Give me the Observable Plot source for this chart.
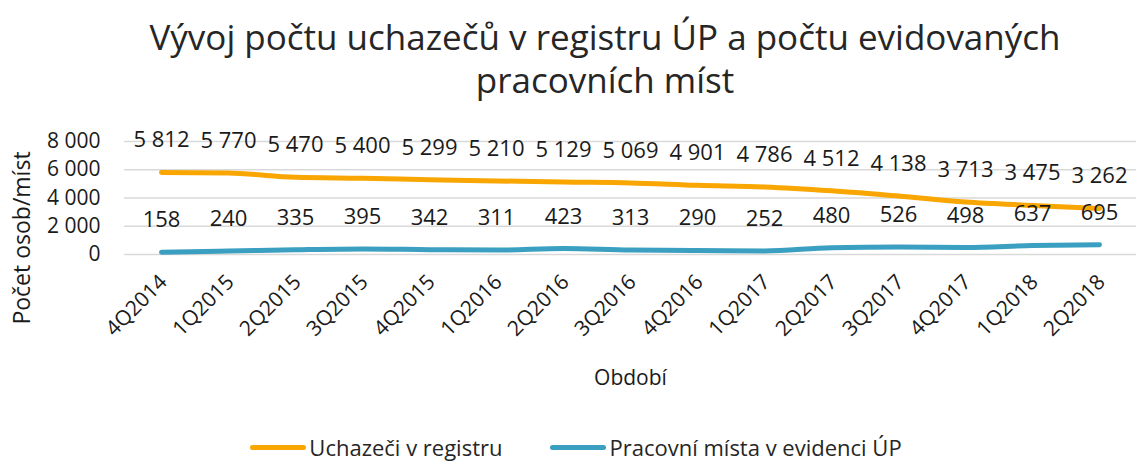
<!DOCTYPE html>
<html>
<head>
<meta charset="utf-8">
<script src="https://cdn.jsdelivr.net/npm/d3@7"></script>
<script src="https://cdn.jsdelivr.net/npm/@observablehq/plot@0.6"></script>
<style>
  html, body { margin: 0; padding: 0; background: #fff; }
  body { width: 1136px; height: 463px; overflow: hidden; font-family: "Open Sans", sans-serif; color: #262626; }
  #title { font-size: 35px; line-height: 43px; text-align: center; padding: 15px 0 0 74px; height: 100px; box-sizing: content-box; white-space: nowrap; }
  #chart { margin-top: 0; height: 285px; }
  #legend { display: flex; justify-content: center; align-items: center; gap: 48px; height: 63px; padding-left: 16px; padding-top: 32px; box-sizing: border-box; font-size: 22px; line-height: 31px; }
  .item { display: flex; align-items: center; }
  .sw { display: inline-block; width: 56px; height: 5px; border-radius: 3px; margin-right: 3px; }
</style>
</head>
<body>
<div id="title">Vývoj počtu uchazečů v registru ÚP a počtu evidovaných<br>pracovních míst</div>
<div id="chart"></div>
<div id="legend"></div>
<script>
const categories = ["4Q2014","1Q2015","2Q2015","3Q2015","4Q2015","1Q2016","2Q2016","3Q2016","4Q2016","1Q2017","2Q2017","3Q2017","4Q2017","1Q2018","2Q2018"];
const uchazeci = [5812,5770,5470,5400,5299,5210,5129,5069,4901,4786,4512,4138,3713,3475,3262];
const mista = [158,240,335,395,342,311,423,313,290,252,480,526,498,637,695];
const seriesNames = ["Uchazeči v registru","Pracovní místa v evidenci ÚP"];
const seriesColors = ["#F9A602","#3A9FC0"];
const yTicks = [0,2000,4000,6000,8000];

const loc = d3.formatLocale({thousands: " ", grouping: [3], decimal: ",", currency: ["", ""]});
const fmt = loc.format(",d");

const data = [
  ...categories.map((c, i) => ({period: c, series: seriesNames[0], value: uchazeci[i]})),
  ...categories.map((c, i) => ({period: c, series: seriesNames[1], value: mista[i]}))
];

const chart = Plot.plot({
  width: 1136,
  height: 285,
  marginLeft: 124,
  marginRight: 0,
  marginTop: 26,
  marginBottom: 146,
  style: {fontFamily: "Open Sans", fontSize: "21px", color: "#1a1a1a", background: "white", overflow: "visible"},
  x: {type: "point", domain: categories, padding: 0.5, label: null},
  y: {domain: [0, 8000], label: null},
  color: {domain: seriesNames, range: seriesColors},
  marks: [
    Plot.ruleY(yTicks, {stroke: "#d9d9d9", strokeWidth: 1.5}),
    Plot.axisY({ticks: yTicks, tickSize: 0, tickPadding: 24, tickFormat: fmt, label: null, fontSize: 21}),
    Plot.axisX({tickSize: 0, tickRotate: -45, tickPadding: 6, dy: 18, dx: 2, label: null, fontSize: 21}),
    Plot.line(data, {x: "period", y: "value", z: "series", stroke: "series", strokeWidth: 5, curve: "monotone-x", strokeLinecap: "round", strokeLinejoin: "round"}),
    Plot.text(data, {x: "period", y: "value", text: d => fmt(d.value), dy: -32, fontSize: 22, fill: "#1a1a1a"}),
    Plot.text(["Počet osob/míst"], {text: d => d, frameAnchor: "left", textAnchor: "middle", dx: -102, dy: 40, rotate: -90, fontSize: 23}),
    Plot.text(["Období"], {text: d => d, frameAnchor: "bottom", lineAnchor: "middle", dy: 124, fontSize: 21})
  ]
});
document.getElementById("chart").appendChild(chart);

const legend = document.getElementById("legend");
seriesNames.forEach((name, i) => {
  const it = document.createElement("div");
  it.className = "item";
  const sw = document.createElement("span");
  sw.className = "sw";
  sw.style.background = seriesColors[i];
  const t = document.createElement("span");
  t.textContent = name;
  it.appendChild(sw);
  it.appendChild(t);
  legend.appendChild(it);
});
</script>
</body>
</html>
